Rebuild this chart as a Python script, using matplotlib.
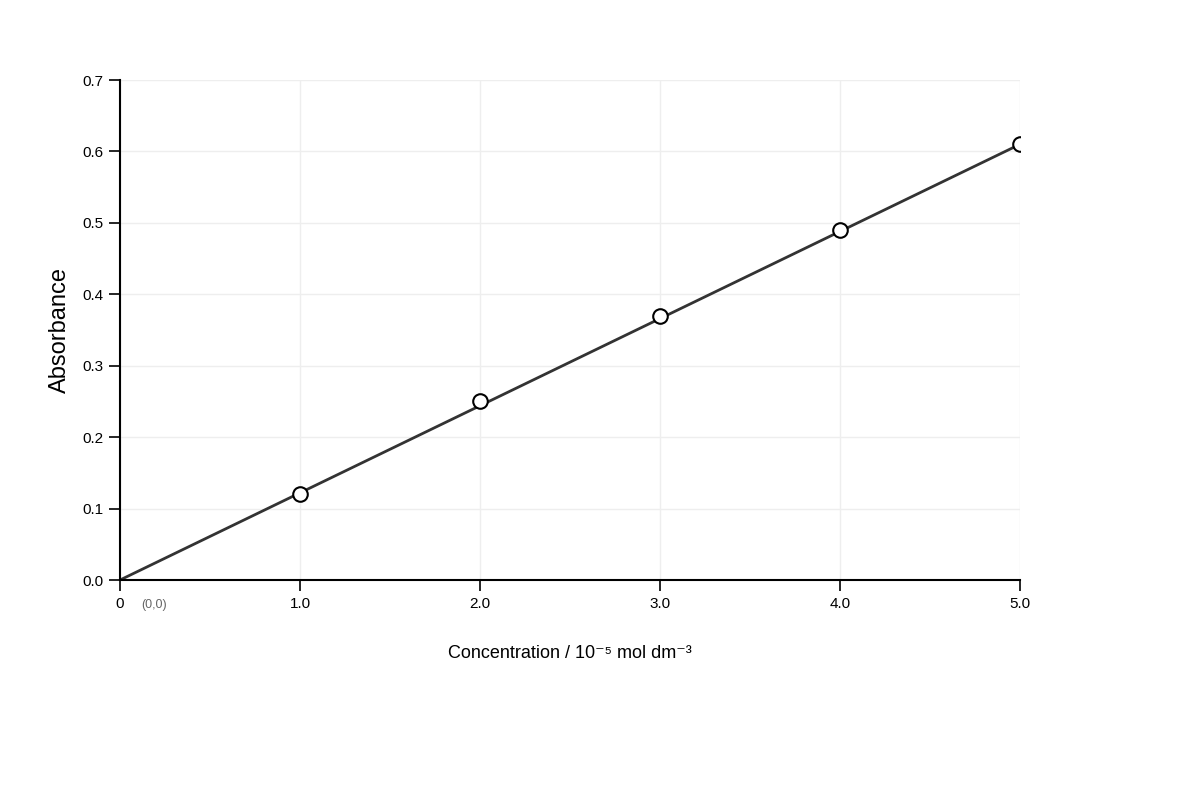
import matplotlib
matplotlib.use('Agg')
import matplotlib.pyplot as plt

plt.rcParams['font.family'] = ['Liberation Sans', 'DejaVu Sans']

# Calibration data
conc = [1.0, 2.0, 3.0, 4.0, 5.0]
absorb = [0.12, 0.25, 0.37, 0.49, 0.61]
fit_x = [0.0, 5.0]
fit_y = [0.0, 0.61]
x_ticks = [0, 1, 2, 3, 4, 5]
x_labels = ['0', '1.0', '2.0', '3.0', '4.0', '5.0']
y_ticks = [0.0, 0.1, 0.2, 0.3, 0.4, 0.5, 0.6, 0.7]

fig = plt.figure(figsize=(12, 8), dpi=100)
ax = fig.add_axes([0.1, 0.275, 0.75, 0.625])

ax.plot(fit_x, fit_y, color='#333333', linewidth=2, zorder=2)
ax.scatter(conc, absorb, s=110, facecolor='white', edgecolor='black', linewidth=1.5, zorder=3)

ax.set_xlim(0, 5)
ax.set_ylim(0, 0.7)
ax.set_xticks(x_ticks)
ax.set_xticklabels(x_labels)
ax.set_yticks(y_ticks)
ax.set_yticklabels([f'{v:.1f}' for v in y_ticks])
ax.tick_params(labelsize=11, length=8, width=1.2, pad=4)
ax.grid(True, color='#eeeeee', linewidth=1)
ax.set_axisbelow(True)
for s in ['top', 'right']:
    ax.spines[s].set_visible(False)
for s in ['left', 'bottom']:
    ax.spines[s].set_linewidth(1.5)

ax.set_xlabel('Concentration / 10⁻⁵ mol dm⁻³', fontsize=13, labelpad=25)
ax.set_ylabel('Absorbance', fontsize=17)
ax.yaxis.set_label_coords(-0.054, 0.5)
ax.annotate('(0,0)', xy=(0, 0), xytext=(15, -20), textcoords='offset points',
            fontsize=9, color='#666666', annotation_clip=False)

plt.savefig('out.png', dpi=100)
